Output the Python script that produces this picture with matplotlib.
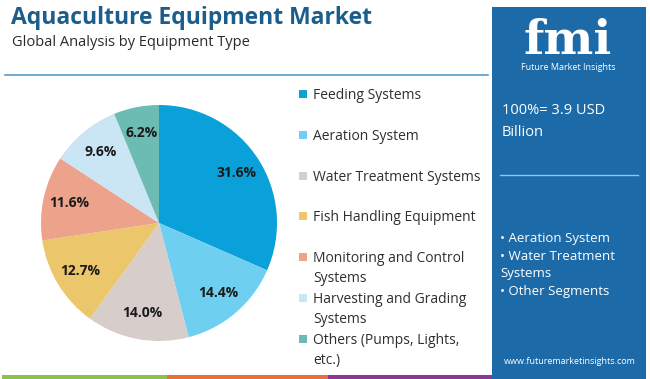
import matplotlib.pyplot as plt
from matplotlib.patches import Rectangle

# data
categories = ['Feeding Systems', 'Aeration System', 'Water Treatment Systems',
              'Fish Handling Equipment', 'Monitoring and Control\nSystems',
              'Harvesting and Grading\nSystems', 'Others (Pumps, Lights,\netc.)']
shares = [31.6, 14.4, 14.0, 12.7, 11.6, 9.6, 6.2]
colors = ['#0aa0d9', '#6fcff1', '#d7cdcb', '#ecc66b', '#eca28b', '#cae5f4', '#6cbcb4']
total_label = '100%= 3.9 USD\nBillion'
segments = ['• Aeration System', '• Water Treatment\nSystems', '• Other Segments']

plt.rcParams['font.family'] = ['Open Sans', 'DejaVu Sans']

W, H = 650, 379
fig = plt.figure(figsize=(W / 100, H / 100), dpi=100)
fig.patch.set_facecolor('white')

def fx(x):
    return x / W

def fy(y):
    return 1 - y / H

# title block
fig.text(fx(11), fy(18), 'Aquaculture Equipment Market', fontsize=16.5, fontweight='bold',
         color='#1b5d8d', va='center', ha='left')
fig.text(fx(12), fy(42), 'Global Analysis by Equipment Type', fontsize=10.5,
         color='#2a2a2a', va='center', ha='left')
fig.add_artist(plt.Line2D([fx(5), fx(488)], [fy(75), fy(75)], color='#5a9cc8', lw=1.2))

# pie
ax = fig.add_axes([fx(41), fy(341), (277 - 41) / W, (341 - 105) / H])
wedges, texts, autotexts = ax.pie(shares, colors=colors, startangle=90, counterclock=False,
                                  autopct='%.1f%%', pctdistance=0.78,
                                  wedgeprops=dict(linewidth=0))
for t in autotexts:
    t.set_fontsize(10)
    t.set_fontweight('bold')
    t.set_color('#1a1a1a')
ax.set_xlim(-1, 1)
ax.set_ylim(-1, 1)
ax.set_aspect('equal')

# legend
y0, step = 94, 40.8
for i, (lab, c) in enumerate(zip(categories, colors)):
    y = y0 + i * step
    fig.add_artist(Rectangle((fx(299), fy(y + 4)), 8 / W, 8 / H, facecolor=c,
                             edgecolor='none', transform=fig.transFigure))
    fig.text(fx(313), fy(y - 6), lab, fontsize=10, color='#2f2f2f', va='top', ha='left',
             linespacing=1.45)

# side panel
fig.add_artist(Rectangle((fx(492), fy(379)), (646 - 492) / W, (379 - 7) / H,
                         facecolor='#1c6aa8', edgecolor='none', transform=fig.transFigure))
fig.text(fx(568), fy(54), 'fmi', fontsize=34, fontweight='bold', color='white',
         ha='center', va='baseline', family='DejaVu Serif')
fig.text(fx(568), fy(68), 'Future Market Insights', fontsize=6.5, color='white',
         ha='center', va='center')
fig.text(fx(502), fy(103), total_label, fontsize=10.5, color='white', ha='left', va='top',
         linespacing=1.6)
fig.add_artist(plt.Line2D([fx(500), fx(638)], [fy(175), fy(175)], color='#9cc3e2', lw=1))
fig.text(fx(500), fy(232), '\n'.join(segments), fontsize=9.5, color='white', ha='left',
         va='top', linespacing=1.45)
fig.text(fx(570), fy(362), 'www.futuremarketinsights.com', fontsize=6.5, color='white',
         ha='center', va='center')

# bottom strip
for x0, x1, c in [(2, 167, '#8cc152'), (167, 328, '#e8703a'), (328, 492, '#8e3596')]:
    fig.add_artist(Rectangle((fx(x0), 0), (x1 - x0) / W, 4 / H, facecolor=c,
                             edgecolor='none', transform=fig.transFigure))

fig.savefig('out.png', dpi=100)
